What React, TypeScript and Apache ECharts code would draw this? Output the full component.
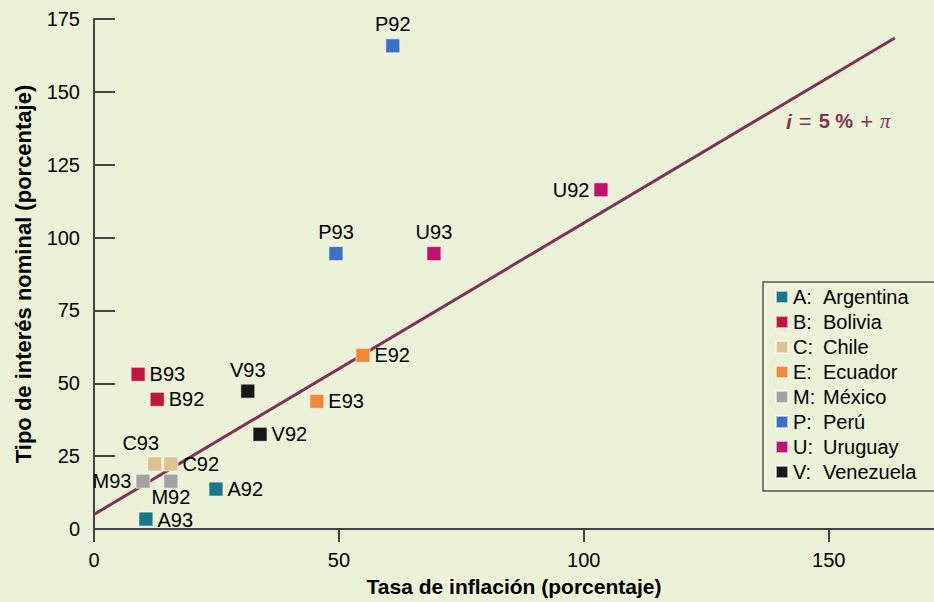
import React, { useEffect, useRef } from "react";
import * as echarts from "echarts";

const countries = [
  "A:  Argentina",
  "B:  Bolivia",
  "C:  Chile",
  "E:  Ecuador",
  "M:  México",
  "P:  Perú",
  "U:  Uruguay",
  "V:  Venezuela",
];
const codes = [
  ["A92", "A93"],
  ["B92", "B93"],
  ["C92", "C93"],
  ["E92", "E93"],
  ["M92", "M93"],
  ["P92", "P93"],
  ["U92", "U93"],
  ["V92", "V93"],
];
const inflation = [
  [24.9, 10.6],
  [12.9, 9.0],
  [15.7, 12.4],
  [54.9, 45.5],
  [15.7, 10.0],
  [61.0, 49.4],
  [103.5, 69.4],
  [33.9, 31.4],
];
const interest = [
  [13.7, 3.4],
  [44.5, 53.1],
  [22.3, 22.3],
  [59.6, 43.8],
  [16.4, 16.4],
  [165.8, 94.5],
  [116.4, 94.5],
  [32.5, 47.3],
];
const ruleX = [0, 163.5];
const ruleY = [5, 168.5];
const xTicks = [0, 50, 100, 150];
const yTicks = [0, 25, 50, 75, 100, 125, 150, 175];

// styles
const colors = ["#17788a", "#c3143d", "#dcc28c", "#f38736", "#a2a2a2", "#3b70c2", "#c1116c", "#161616"];
const labelPos: Record<string, any> = {
  P92: { position: "top" },
  P93: { position: "top" },
  U92: { position: "left" },
  U93: { position: "top" },
  E92: { position: "right" },
  E93: { position: "right" },
  V93: { position: "top" },
  V92: { position: "right" },
  B93: { position: "right" },
  B92: { position: "right" },
  C93: { position: "top", offset: [-14, 0] },
  C92: { position: "right" },
  M93: { position: "left" },
  M92: { position: "bottom", offset: [0, -6] },
  A92: { position: "right" },
  A93: { position: "right", offset: [0, 1] },
};

const FONT = "'Liberation Sans', Arial, Helvetica, sans-serif";
const BG = "#ecf2d8";
const LINE = "#7b3457";

export default function App() {
  const ref = useRef<HTMLDivElement>(null);
  useEffect(() => {
    if (!ref.current) return;
    const chart = echarts.init(ref.current, null, { renderer: "svg" });
    const scatter = countries.map((name, i) => ({
      name,
      type: "scatter",
      symbol: "rect",
      symbolSize: 14,
      itemStyle: { color: colors[i], opacity: 1, borderColor: "rgba(255,255,255,0.6)", borderWidth: 1 },
      label: {
        show: true,
        formatter: "{b}",
        fontSize: 20,
        lineHeight: 20,
        fontFamily: FONT,
        color: "#000",
        distance: 4,
      },
      z: 3,
      data: codes[i].map((c, j) => ({
        name: c,
        value: [inflation[i][j], interest[i][j]],
        label: labelPos[c],
      })),
    }));
    chart.setOption({
      animation: false,
      backgroundColor: BG,
      textStyle: { fontFamily: FONT },
      grid: { left: 94, right: 0, top: 19, bottom: 72, containLabel: false },
      xAxis: {
        type: "value",
        min: 0,
        max: 171.5,
        interval: 50,
        splitLine: { show: false },
        name: "Tasa de inflación (porcentaje)",
        nameLocation: "middle",
        nameGap: 47,
        nameTextStyle: { fontSize: 21, fontWeight: "bold", color: "#000", fontFamily: FONT },
        axisLine: { show: true, lineStyle: { color: "#444", width: 2 } },
        axisTick: {
          show: true,
          inside: false,
          length: 13,
          customValues: xTicks,
          lineStyle: { color: "#444", width: 2 },
        },
        axisLabel: {
          customValues: xTicks,
          fontSize: 20,
          color: "#000",
          margin: 21,
          fontFamily: FONT,
        },
      },
      yAxis: {
        type: "value",
        min: 0,
        max: 175,
        interval: 25,
        splitLine: { show: false },
        name: "Tipo de interés nominal (porcentaje)",
        nameLocation: "middle",
        nameGap: 60,
        nameTextStyle: { fontSize: 22, fontWeight: "bold", color: "#000", fontFamily: FONT },
        axisLine: { show: true, lineStyle: { color: "#444", width: 2 } },
        axisTick: {
          show: true,
          inside: true,
          length: 21,
          customValues: yTicks,
          lineStyle: { color: "#444", width: 2 },
        },
        axisLabel: {
          customValues: yTicks,
          fontSize: 20,
          color: "#000",
          margin: 14,
          fontFamily: FONT,
        },
      },
      legend: {
        data: countries,
        orient: "vertical",
        left: 763,
        top: 282,
        padding: [5, 20, 9, 12],
        itemGap: 5,
        itemWidth: 12,
        itemHeight: 12,
        icon: "rect",
        borderColor: "#555",
        borderWidth: 1.5,
        backgroundColor: BG,
        formatter: (name: string) => {
          const parts = name.split(":  ");
          return `{k|${parts[0]}:}{n|${parts[1]}}`;
        },
        textStyle: {
          fontSize: 20,
          lineHeight: 20,
          color: "#000",
          fontFamily: FONT,
          rich: {
            k: { width: 30, fontSize: 20, fontFamily: FONT, color: "#000" },
            n: { fontSize: 20, fontFamily: FONT, color: "#000" },
          },
        },
      },
      graphic: [
        {
          type: "text",
          x: 786,
          y: 121,
          z: 10,
          style: {
            text: "{a|i}{o|=}{b|5 %}{o|+}{p|π}",
            textVerticalAlign: "middle",
            rich: {
              a: { font: `italic bold 21px ${FONT}`, fill: LINE },
              o: { font: `22px ${FONT}`, fill: LINE, padding: [0, 7, 0, 7] },
              b: { font: `bold 20px ${FONT}`, fill: LINE },
              p: { font: `italic 21px 'Liberation Serif', 'DejaVu Serif', serif`, fill: LINE },
            },
          },
        },
      ],
      series: [
        {
          name: "rule",
          type: "line",
          data: ruleX.map((x, i) => [x, ruleY[i]]),
          showSymbol: false,
          symbol: "none",
          lineStyle: { color: LINE, width: 3 },
          z: 2,
          silent: true,
        },
        ...scatter,
      ],
    });
    return () => chart.dispose();
  }, []);
  return (
    <div
      ref={ref}
      style={{ position: "absolute", left: 0, top: 0, width: 934, height: 602 }}
    />
  );
}
